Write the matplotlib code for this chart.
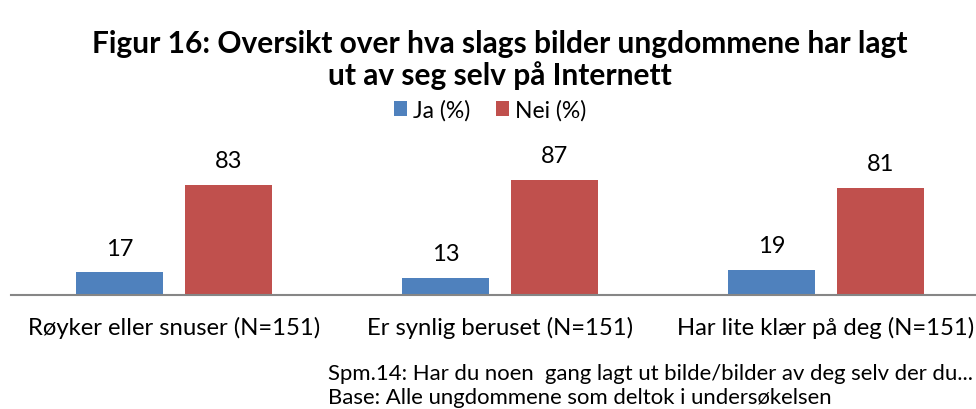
import matplotlib.pyplot as plt
import numpy as np

plt.rcParams["font.family"] = ["Lato", "DejaVu Sans"]

categories = ["Røyker eller snuser (N=151)", "Er synlig beruset (N=151)", "Har lite klær på deg (N=151)"]
ja = [17, 13, 19]
nei = [83, 87, 81]
series_names = ["Ja (%)", "Nei (%)"]
colors = ["#4F81BD", "#C0504D"]

title = "Figur 16: Oversikt over hva slags bilder ungdommene har lagt\nut av seg selv på Internett"
note = "Spm.14: Har du noen  gang lagt ut bilde/bilder av deg selv der du...\nBase: Alle ungdommene som deltok i undersøkelsen"

fig = plt.figure(figsize=(9.76, 4.10), dpi=100)
# plot area runs a little past the right edge, as in the original
ax = fig.add_axes([11 / 976, (410 - 296) / 410, 978 / 976, 132.5 / 410])

x = np.arange(len(categories))
w = 0.267
gap = 0.067
for vals, name, col, off in [(ja, series_names[0], colors[0], -(w + gap) / 2),
                             (nei, series_names[1], colors[1], (w + gap) / 2)]:
    bars = ax.bar(x + off, vals, w, color=col, label=name)
    for b, v in zip(bars, vals):
        ax.annotate(str(v), (b.get_x() + b.get_width() / 2, v), xytext=(0, 10),
                    textcoords="offset points", ha="center", va="bottom", fontsize=17)

ax.set_xlim(-0.5, len(categories) - 0.5)
ax.set_ylim(0, 100)
ax.set_yticks([])
ax.set_xticks(x)
ax.set_xticklabels(categories, fontsize=17.2)
ax.tick_params(axis="x", length=0, pad=15)
for s in ["top", "right", "left"]:
    ax.spines[s].set_visible(False)
ax.spines["bottom"].set_color("#868686")
ax.spines["bottom"].set_linewidth(1.5)

fig.text(500 / 976, 1 - 60 / 410, title, ha="center", va="center", fontsize=21.5,
         fontweight="bold", linespacing=1.1)
fig.legend(loc="center", bbox_to_anchor=(490 / 976, 1 - 111 / 410), ncol=2, frameon=False,
           fontsize=16.5, handlelength=0.6, handleheight=0.6, handletextpad=0.25, columnspacing=1.1)
fig.text(328 / 976, 1 - 386 / 410, note, ha="left", va="center", fontsize=15.9,
         linespacing=1.3)

fig.savefig("out.png", dpi=100)
